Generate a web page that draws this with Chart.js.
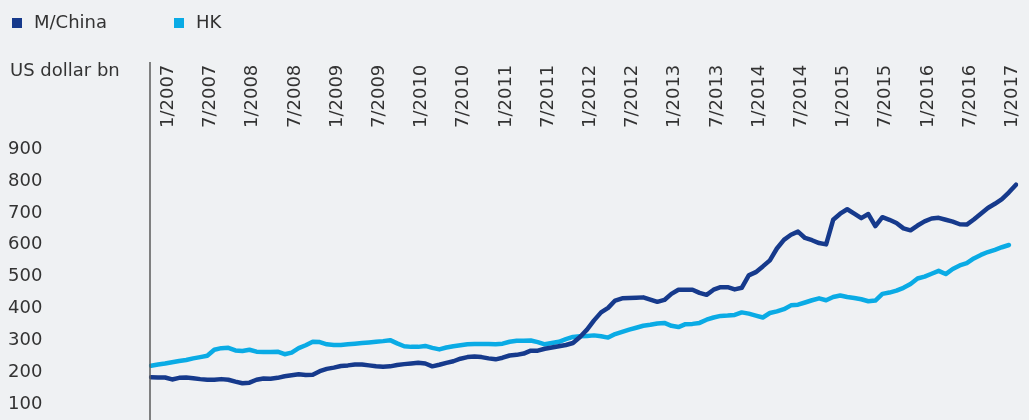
<!DOCTYPE html>
<html>
<head>
<meta charset="utf-8">
<script src="https://cdn.jsdelivr.net/npm/chart.js@4.4.1/dist/chart.umd.min.js"></script>
<style>
  html, body { margin: 0; padding: 0; background: #eff1f3; }
  #wrap { width: 1029px; height: 420px; }
</style>
</head>
<body>
<div id="wrap"><canvas id="myChart" width="1029" height="420"></canvas></div>
<script>
// Meses de 1/2007 a 4/2017 (etiquetas del eje x)
const meses = [];
for (let a = 2007; a <= 2017; a++) {
    for (let m = 1; m <= 12; m++) {
        if (a === 2017 && m > 4) break;
        meses.push(m + "/" + a);
    }
}

const serieChina = [
    179, 178, 178, 172, 177, 178, 176, 173, 171, 171, 173, 171,
    165, 160, 162, 171, 175, 174, 177, 182, 185, 188, 186, 187,
    198, 205, 209, 214, 216, 219, 219, 216, 213, 212, 213, 217,
    220, 222, 224, 222, 213, 218, 224, 229, 237, 242, 244, 242,
    238, 235, 240, 247, 249, 253, 262, 262, 268, 272, 276, 280,
    286, 305, 328, 357, 382, 396, 419, 426, 427, 428, 429, 422,
    415, 421, 440, 453, 453, 453, 443, 437, 453, 461, 461, 454,
    459, 498, 508, 526, 545, 582, 609, 625, 635, 615, 608, 599,
    595, 672, 691, 705, 691, 677, 690, 652, 680, 672, 662, 645,
    639, 654, 667, 676, 678, 672, 666, 658, 657, 673, 691, 709,
    722, 737, 758, 782
];

const serieHK = [
    215, 219, 222, 226, 230, 233, 238, 242, 246, 265, 270, 271,
    263, 261, 265, 259, 258, 258, 259, 251, 256, 270, 279, 290,
    289, 282, 280, 280, 282, 284, 286, 288, 290, 292, 295, 285,
    276, 274, 274, 277, 271, 266, 272, 276, 279, 282, 283, 283,
    283, 282, 284, 290, 293, 293, 294, 289, 282, 286, 290, 298,
    305, 307, 308, 310, 307, 303, 314, 321, 328, 334, 340, 343,
    347, 349, 340, 336, 345, 346, 349, 359, 366, 371, 372, 374,
    382, 378, 372, 366, 380, 385, 392, 404, 406, 413, 420, 426,
    420, 430, 435, 430, 427, 423, 417, 419, 440, 444, 450, 459,
    471, 488, 494, 503, 512, 502, 518, 529, 536, 551, 562, 571,
    578, 586, 593
];

const etiquetasY = [100, 200, 300, 400, 500, 600, 700, 800, 900];
const tituloY = "US dollar bn";

const colores = ["#163a8c", "#0aabe5"];
const fuente = { family: "'DejaVu Sans', sans-serif", size: 18 };

// Leyenda, titulo del eje y linea vertical del eje
const extras = {
    id: "extras",
    afterDraw(chart) {
        const { ctx, chartArea, scales } = chart;
        ctx.save();
        ctx.strokeStyle = "#5a5a5a";
        ctx.lineWidth = 1.5;
        ctx.beginPath();
        ctx.moveTo(chartArea.left - 1, scales.x.top);
        ctx.lineTo(chartArea.left - 1, chartArea.bottom);
        ctx.stroke();

        ctx.font = "18px 'DejaVu Sans', sans-serif";
        ctx.fillStyle = "#333";
        ctx.textBaseline = "middle";
        ctx.fillText(tituloY, 10, 71);

        const posX = [12, 174];
        chart.data.datasets.forEach((ds, k) => {
            ctx.fillStyle = ds.borderColor;
            ctx.fillRect(posX[k], 18, 10, 10);
            ctx.fillStyle = "#333";
            ctx.fillText(ds.label, posX[k] + 22, 23);
        });
        ctx.restore();
    }
};

new Chart(document.getElementById("myChart"), {
    type: "line",
    data: {
        labels: meses,
        datasets: [{
            label: "M/China",
            data: serieChina,
            borderColor: colores[0],
            borderWidth: 4.5,
            pointRadius: 0,
            borderJoinStyle: "round",
            borderCapStyle: "round",
            fill: false,
            tension: 0
        }, {
            label: "HK",
            data: serieHK,
            borderColor: colores[1],
            borderWidth: 4.5,
            pointRadius: 0,
            borderJoinStyle: "round",
            borderCapStyle: "round",
            fill: false,
            tension: 0
        }]
    },
    options: {
        responsive: false,
        animation: false,
        layout: { padding: { top: 62, left: 8, right: 13, bottom: 0 } },
        plugins: { legend: { display: false }, tooltip: { enabled: false } },
        scales: {
            x: {
                position: "top",
                offset: false,
                grid: { display: false, drawTicks: false },
                border: { display: false },
                afterBuildTicks: s => { s.ticks = s.ticks.filter(t => t.value % 6 === 0); },
                afterFit: s => { s.height = 69; },
                ticks: {
                    autoSkip: false,
                    maxRotation: 90,
                    minRotation: 90,
                    padding: 3,
                    labelOffset: 39,
                    color: "#333",
                    font: fuente
                }
            },
            y: {
                min: 45,
                max: 950,
                grid: { display: false, drawTicks: false },
                border: { display: false },
                afterBuildTicks: s => { s.ticks = etiquetasY.map(v => ({ value: v })); },
                afterFit: s => { s.width = 143; s.paddingTop = 0; s.paddingBottom = 0; },
                ticks: {
                    crossAlign: "far",
                    labelOffset: 2,
                    color: "#333",
                    font: fuente
                }
            }
        }
    },
    plugins: [extras]
});
</script>
</body>
</html>
